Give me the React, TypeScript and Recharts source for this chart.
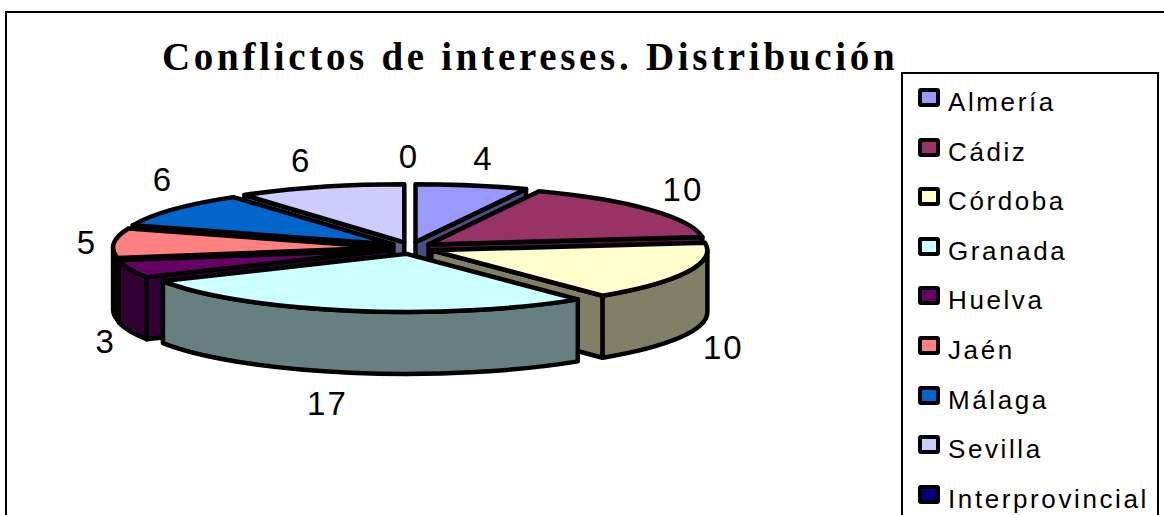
import { Legend, Pie, PieChart } from "recharts";

const categories = ["Almería", "Cádiz", "Córdoba", "Granada", "Huelva", "Jaén", "Málaga", "Sevilla", "Interprovincial"];
const values = [4, 10, 10, 17, 3, 5, 6, 6, 0];
const topColors = ["#9999FF", "#993366", "#FFFFCC", "#CCFFFF", "#660066", "#FF8080", "#0066CC", "#CCCCFF", "#000080"];
const sideColors = ["#4C4C80", "#4D1A33", "#808066", "#668080", "#330033", "#804040", "#003366", "#666680", "#000040"];
// back to front, so the near slices cover the far ones
const drawOrder = ["Sevilla", "Almería", "Málaga", "Cádiz", "Jaén", "Huelva", "Córdoba", "Granada", "Interprovincial"];
const labelNudges = [[4, 3], [4, -1], [2, 2], [-15, 1], [11, 0], [10, 2], [20, -11], [-8, 3], [-2, 3]];

const tableData = categories.map((name, i) => ({ name, value: values[i] }));

const TILT = 58 / 276;
const DEPTH = 62;
const EXPLODE_X = 22;
const EXPLODE_Y = 6;
const RAD = Math.PI / 180;

function SliceShape(props: any) {
  const { cx, cy, outerRadius, startAngle, endAngle, name, only } = props;
  if (name !== only || startAngle === endAngle) return null;
  const i = categories.indexOf(name);

  // clock angles, 0 at the top and growing clockwise
  const a0 = 90 - startAngle;
  const a1 = 90 - endAngle;
  const mid = (a0 + a1) / 2;
  const ry = outerRadius * TILT;
  const tipX = cx + EXPLODE_X * Math.sin(mid * RAD);
  const tipY = cy - EXPLODE_Y * Math.cos(mid * RAD);
  const px = (a: number) => tipX + outerRadius * Math.sin(a * RAD);
  const py = (a: number) => tipY - ry * Math.cos(a * RAD);
  const arc = (from: number, to: number, dy: number) =>
    `A${outerRadius} ${ry} 0 0 ${to > from ? 1 : 0} ${px(to)} ${py(to) + dy}`;
  const face = (a: number) =>
    `M${tipX} ${tipY}L${px(a)} ${py(a)}L${px(a)} ${py(a) + DEPTH}L${tipX} ${tipY + DEPTH}Z`;

  const wallFrom = Math.max(a0, 90);
  const wallTo = Math.min(a1, 270);
  const common = { stroke: "#000", strokeWidth: 4.5, strokeLinejoin: "round" as const };

  return (
    <g>
      {a0 >= 180 && <path d={face(a0)} fill={sideColors[i]} {...common} />}
      {a1 <= 180 && <path d={face(a1)} fill={sideColors[i]} {...common} />}
      {wallTo > wallFrom && (
        <path
          d={`M${px(wallFrom)} ${py(wallFrom)}${arc(wallFrom, wallTo, 0)}L${px(wallTo)} ${py(wallTo) + DEPTH}${arc(wallTo, wallFrom, DEPTH)}Z`}
          fill={sideColors[i]}
          {...common}
        />
      )}
      <path
        d={`M${tipX} ${tipY}L${px(a0)} ${py(a0)}${arc(a0, a1, 0)}Z`}
        fill={topColors[i]}
        {...common}
      />
    </g>
  );
}

function renderValueLabel(props: any) {
  const { cx, cy, midAngle, outerRadius, value, index } = props;
  const a = (90 - midAngle) * RAD;
  const c = Math.cos(a);
  const x = cx + (outerRadius + 59) * Math.sin(a) + labelNudges[index][0];
  const y = cy - 95 * c + (c < 0 ? DEPTH : 0) + labelNudges[index][1];
  return (
    <text
      key={index}
      x={x}
      y={y}
      textAnchor="middle"
      dominantBaseline="central"
      fontFamily="Liberation Sans"
      fontSize={33}
      letterSpacing={2}
      fill="#000"
    >
      {value}
    </text>
  );
}

function LegendBox() {
  return (
    <div
      style={{
        position: "relative",
        width: 258,
        height: 460,
        border: "2px solid #000",
        boxSizing: "border-box",
        background: "#fff",
        fontFamily: "Liberation Sans",
        fontSize: 26,
        letterSpacing: 2.6,
        color: "#000"
      }}
    >
      {categories.map((name, i) => (
        <div key={name} style={{ position: "absolute", left: 15, top: 11 + i * 49.6, height: 34, whiteSpace: "nowrap", lineHeight: "34px" }}>
          <span
            style={{
              position: "absolute",
              left: 0,
              top: 3,
              width: 22,
              height: 19,
              boxSizing: "border-box",
              border: "4px solid #000",
              borderRadius: 3,
              background: topColors[i]
            }}
          />
          <span style={{ marginLeft: 30 }}>{name}</span>
        </div>
      ))}
    </div>
  );
}

export default function App() {
  return (
    <div style={{ position: "absolute", left: 0, top: 0, width: 1164, height: 515, overflow: "hidden", background: "#fff" }}>
      <PieChart width={1164} height={515} margin={{ top: 0, right: 0, bottom: 0, left: 0 }}>
        <rect x={6} y={12} width={1170} height={520} fill="none" stroke="#000" strokeWidth={2} />
        <text
          x={162}
          y={70}
          fontFamily="Liberation Serif"
          fontWeight="bold"
          fontSize={39}
          letterSpacing={3.7}
          fill="#000"
        >
          Conflictos de intereses. Distribución
        </text>
        {drawOrder.map((name) => (
          <Pie
            key={name}
            data={tableData}
            dataKey="value"
            nameKey="name"
            cx={411}
            cy={248}
            outerRadius={276}
            startAngle={90}
            endAngle={-270}
            stroke="none"
            legendType="none"
            isAnimationActive={false}
            shape={(p: any) => <SliceShape {...p} only={name} />}
            inactiveShape={(p: any) => <SliceShape {...p} only={name} />}
            label={name === "Interprovincial" ? renderValueLabel : false}
            labelLine={false}
          />
        ))}
        <Legend
          content={() => <LegendBox />}
          wrapperStyle={{ position: "absolute", left: 901, top: 72, width: 258, height: 460 }}
        />
      </PieChart>
    </div>
  );
}
